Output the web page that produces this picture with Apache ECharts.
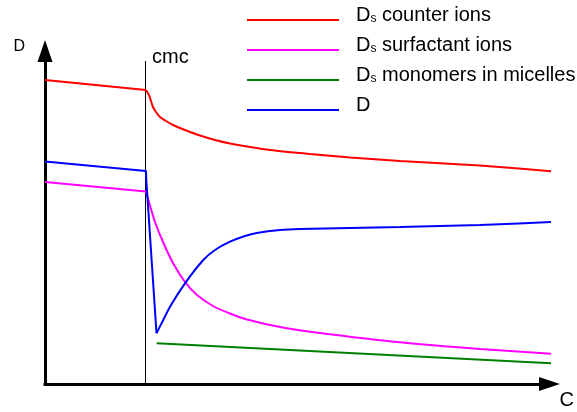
<!DOCTYPE html>
<html>
<head>
<meta charset="utf-8">
<script src="https://cdn.jsdelivr.net/npm/echarts@6/dist/echarts.min.js"></script>
<style>html,body{margin:0;padding:0;background:#fff}#c{width:577px;height:412px}</style>
</head>
<body>
<div id="c"></div>
<script>
// Concentration C (arbitrary units) vs diffusion coefficient D (arbitrary units)
const seriesNames = ['Ds counter ions', 'Ds surfactant ions', 'Ds monomers in micelles', 'D'];
const cmcValue = 1.005;
const cmcTop = 3.23;
const counterIons = [[0,3.04],[1.01,2.94],[1.04,2.89],[1.06,2.83],[1.08,2.77],[1.11,2.72],[1.15,2.67],[1.21,2.63],[1.28,2.59],[1.40,2.54],[1.55,2.485],[1.70,2.44],[1.85,2.405],[2.05,2.37],[2.25,2.34],[2.65,2.30],[3.05,2.265],[3.55,2.23],[4.35,2.185],[5.16,2.12]];
const surfactantIons = [[0,2.02],[1.01,1.925],[1.05,1.785],[1.10,1.62],[1.18,1.42],[1.28,1.21],[1.40,1.02],[1.52,0.89],[1.68,0.78],[1.85,0.705],[2.02,0.645],[2.35,0.57],[2.75,0.51],[3.55,0.417],[4.35,0.35],[5.06,0.303]];
const monomersInMicelles = [[1.117,0.407],[5.06,0.207]];
const selfDiffusion = [[0,2.225],[1.01,2.13],[1.013,2.04],[1.115,0.507],[1.167,0.61],[1.25,0.773],[1.40,1.007],[1.583,1.24],[1.70,1.34],[1.85,1.423],[2.0,1.48],[2.117,1.51],[2.35,1.54],[2.55,1.55],[3.05,1.56],[3.55,1.57],[4.35,1.59],[5.16,1.623]];
// index where each curve turns from its straight part into its smooth part
const bendIndex = [1, 1, 0, 3];
const colors = ['#ff0000', '#ff00ff', '#008000', '#0000ff'];
const allData = [counterIons, surfactantIons, monomersInMicelles, selfDiffusion];

const FONT = "'Liberation Sans', Arial, sans-serif";
const chart = echarts.init(document.getElementById('c'), null, {renderer: 'canvas'});

function lineSeries(name, data, color, smooth) {
  return {
    name: name, type: 'line', data: data, symbol: 'none', clip: false, silent: true,
    smooth: smooth,
    lineStyle: {color: color, width: 2}, itemStyle: {color: color},
    emphasis: {disabled: true}
  };
}

const curveSeries = [];
allData.forEach(function (d, i) {
  const k = bendIndex[i];
  if (k > 0) curveSeries.push(lineSeries(seriesNames[i], d.slice(0, k + 1), colors[i], false));
  curveSeries.push(lineSeries(seriesNames[i], d.slice(k), colors[i], 0.2));
});

const option = {
  animation: false,
  grid: {left: 45, right: 27.5, top: 51, bottom: 28},
  legend: {
    data: seriesNames, orient: 'vertical', left: 247, top: 5, padding: 0,
    itemWidth: 92, itemHeight: 2, itemGap: 10, icon: 'rect', selectedMode: false,
    formatter: function (name) {
      if (name === 'D') return '{d|D}';
      return '{d|D}{s|s}{d|' + name.slice(2) + '}';
    },
    textStyle: {
      fontFamily: FONT, fontSize: 20, color: '#000', padding: [0, 0, 10, 12],
      rich: {
        d: {fontFamily: FONT, fontSize: 20, color: '#000', lineHeight: 20},
        s: {fontFamily: FONT, fontSize: 12, color: '#000', lineHeight: 10, verticalAlign: 'bottom'}
      }
    }
  },
  xAxis: {
    type: 'value', min: 0, max: 5.045,
    name: 'C', nameLocation: 'end', nameGap: 10,
    nameTextStyle: {fontFamily: FONT, fontSize: 20, color: '#000', align: 'left', verticalAlign: 'top', padding: [6, 0, 0, 0]},
    axisLine: {show: true, symbol: ['none', 'triangle'], symbolSize: [14, 21], lineStyle: {color: '#000', width: 3, cap: 'square'}},
    axisTick: {show: false}, axisLabel: {show: false}, splitLine: {show: false}
  },
  yAxis: {
    type: 'value', min: 0, max: 3.33,
    name: 'D', nameLocation: 'end', nameGap: 4,
    nameTextStyle: {fontFamily: FONT, fontSize: 16, color: '#000', align: 'right', verticalAlign: 'middle', padding: [0, 20, 0, 0]},
    axisLine: {show: true, symbol: ['none', 'triangle'], symbolSize: [15, 22], lineStyle: {color: '#000', width: 3, cap: 'square'}},
    axisTick: {show: false}, axisLabel: {show: false}, splitLine: {show: false}
  },
  series: [
    {
      name: 'cmc', type: 'line', silent: true, clip: false, z: 1,
      symbol: 'circle', symbolSize: 1, showSymbol: true,
      itemStyle: {color: 'rgba(0,0,0,0)'},
      lineStyle: {color: '#000', width: 1},
      emphasis: {disabled: true},
      data: [
        [cmcValue, 0],
        {value: [cmcValue, cmcTop], label: {show: true, formatter: 'cmc', position: 'right', distance: 6, offset: [0, -4], fontFamily: FONT, fontSize: 20, color: '#000'}}
      ]
    }
  ].concat(curveSeries)
};
chart.setOption(option);
</script>
</body>
</html>
